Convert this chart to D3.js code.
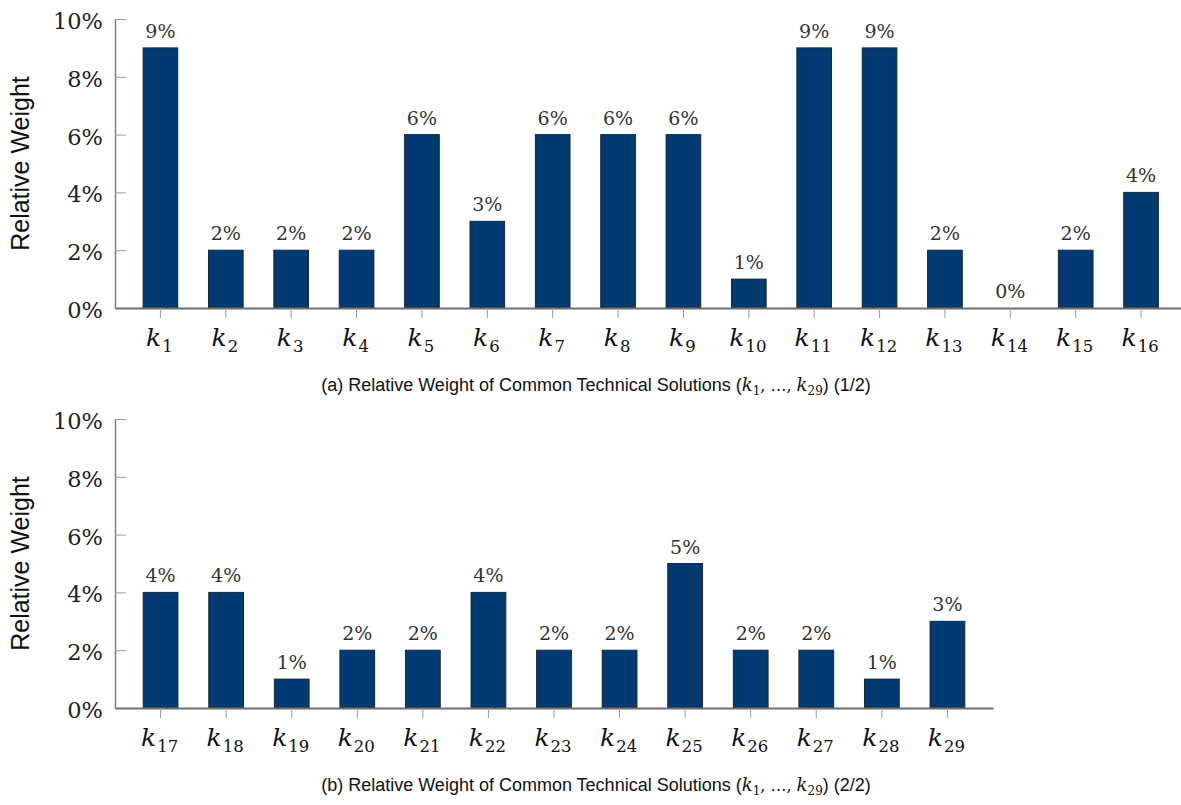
<!DOCTYPE html>
<html>
<head>
<meta charset="utf-8">
<script src="https://cdn.jsdelivr.net/npm/d3@7"></script>
<style>
  html, body { margin: 0; padding: 0; background: #fff; }
  svg { display: block; }
</style>
</head>
<body>
<svg id="chart" width="1181" height="805"></svg>
<script>
// ---- data ----
const subsA = [1, 2, 3, 4, 5, 6, 7, 8, 9, 10, 11, 12, 13, 14, 15, 16];
const valuesA = [9, 2, 2, 2, 6, 3, 6, 6, 6, 1, 9, 9, 2, 0, 2, 4];
const subsB = [17, 18, 19, 20, 21, 22, 23, 24, 25, 26, 27, 28, 29];
const valuesB = [4, 4, 1, 2, 2, 4, 2, 2, 5, 2, 2, 1, 3];
const yTicks = [0, 2, 4, 6, 8, 10];
const yTitle = "Relative Weight";
const captionA = ["(a) Relative Weight of Common Technical Solutions (", ") (1/2)"];
const captionB = ["(b) Relative Weight of Common Technical Solutions (", ") (2/2)"];

const svg = d3.select("#chart");
const serif = "'DejaVu Serif', 'Liberation Serif', serif";
const sans = "'Liberation Sans', Arial, sans-serif";
const barFill = "#003a72";

function panel(subs, values, cfg) {
  const g = svg.append("g");
  const x = d3.scaleBand()
    .domain(subs)
    .range([cfg.x0, cfg.x1])
    .paddingInner(0.47)
    .paddingOuter(0.43);
  const y = d3.scaleLinear().domain([0, 10]).range([cfg.yBottom, cfg.yTop]);

  // bars
  g.selectAll("rect.bar").data(subs).join("rect")
    .attr("class", "bar")
    .attr("x", d => x(d))
    .attr("width", x.bandwidth())
    .attr("y", (d, i) => y(values[i]))
    .attr("height", (d, i) => y(0) - y(values[i]))
    .attr("fill", barFill)
    .attr("stroke", "#1c2633")
    .attr("stroke-width", 1);

  // value labels
  g.selectAll("text.val").data(subs).join("text")
    .attr("class", "val")
    .attr("x", d => x(d) + x.bandwidth() / 2)
    .attr("y", (d, i) => y(values[i]) - 10)
    .attr("text-anchor", "middle")
    .attr("font-family", serif)
    .attr("font-size", 19)
    .attr("fill", "#333")
    .text((d, i) => values[i] + "%");

  // y axis
  const ya = g.append("g")
    .attr("transform", `translate(${cfg.x0},0)`)
    .call(d3.axisLeft(y).tickValues(yTicks).tickSizeInner(-11).tickSizeOuter(0).tickPadding(12).tickFormat(d => d + "%"));
  ya.select(".domain").attr("stroke", "#808080").attr("stroke-width", 1.5);
  ya.selectAll(".tick line").attr("stroke", "#9a9a9a").attr("stroke-width", 1);
  ya.selectAll(".tick text")
    .attr("font-family", serif)
    .attr("font-size", 22.5)
    .attr("fill", "#222")
    .attr("dy", "0.42em");

  // x axis
  const xa = g.append("g")
    .attr("transform", `translate(0,${cfg.yBottom})`)
    .call(d3.axisBottom(x).tickSizeInner(10).tickSizeOuter(0).tickFormat(""));
  xa.select(".domain").attr("stroke", "#6e6e6e").attr("stroke-width", 2);
  xa.selectAll(".tick line").attr("stroke", "#9a9a9a").attr("stroke-width", 1);

  // x tick labels k_n
  const lbl = g.selectAll("text.xl").data(subs).join("text")
    .attr("class", "xl")
    .attr("x", d => x(d) + x.bandwidth() / 2 - 1)
    .attr("y", cfg.yBottom + 38)
    .attr("text-anchor", "middle")
    .attr("font-family", serif)
    .attr("fill", "#111");
  lbl.append("tspan").attr("font-style", "italic").attr("font-size", 25).text("k");
  lbl.append("tspan").attr("font-size", 16.5).attr("dy", 6).attr("dx", 1).text(d => d);

  // y title
  g.append("text")
    .attr("transform", `translate(${cfg.titleX},${(cfg.yTop + cfg.yBottom) / 2}) rotate(-90)`)
    .attr("text-anchor", "middle")
    .attr("dy", "0.35em")
    .attr("font-family", sans)
    .attr("font-size", 25)
    .attr("fill", "#111")
    .text(yTitle);

  // caption
  const cap = g.append("text")
    .attr("x", cfg.capX)
    .attr("y", cfg.capY)
    .attr("text-anchor", "middle")
    .attr("font-family", sans)
    .attr("font-size", 18)
    .attr("fill", "#111");
  cap.append("tspan").text(cfg.caption[0]);
  cap.append("tspan").attr("font-family", serif).attr("font-style", "italic").attr("font-size", 18).text("k");
  cap.append("tspan").attr("font-family", serif).attr("font-size", 12).attr("dy", 4).text("1");
  cap.append("tspan").attr("font-family", serif).attr("font-size", 16).attr("dy", -4).text(", …, ");
  cap.append("tspan").attr("font-family", serif).attr("font-style", "italic").attr("font-size", 18).text("k");
  cap.append("tspan").attr("font-family", serif).attr("font-size", 12).attr("dy", 4).text("29");
  cap.append("tspan").attr("dy", -4).text(cfg.caption[1]);
}

panel(subsA, valuesA, {
  x0: 115, x1: 1186.5, yBottom: 308, yTop: 19, titleX: 20,
  capX: 596, capY: 391, caption: captionA
});
panel(subsB, valuesB, {
  x0: 115, x1: 993, yBottom: 708, yTop: 419, titleX: 20,
  capX: 596, capY: 791, caption: captionB
});
</script>
</body>
</html>
